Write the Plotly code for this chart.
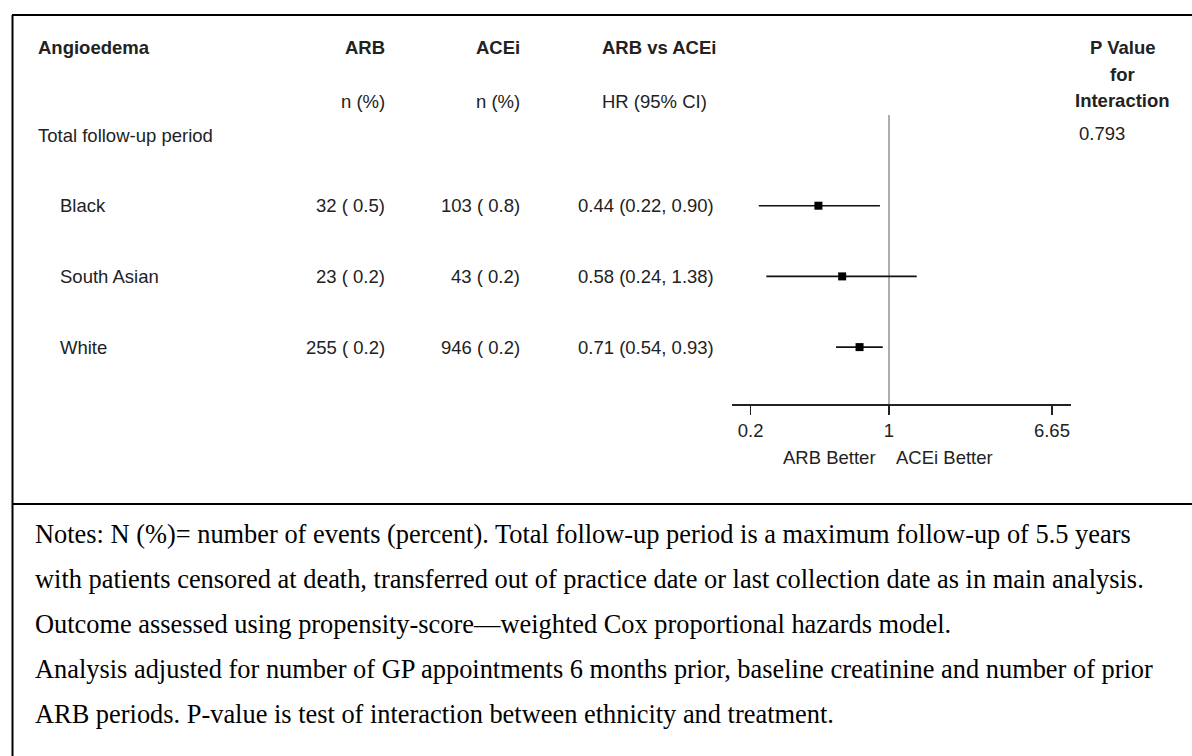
import math
import plotly.graph_objects as go

# ---------------- data ----------------
outcome_title = "Angioedema"
period_label = "Total follow-up period"
groups = ["Black", "South Asian", "White"]
arb_events = [32, 23, 255]
arb_percent = [0.5, 0.2, 0.2]
acei_events = [103, 43, 946]
acei_percent = [0.8, 0.2, 0.2]
hazard_ratio = [0.44, 0.58, 0.71]
ci_lower = [0.22, 0.24, 0.54]
ci_upper = [0.90, 1.38, 0.93]
p_interaction = "0.793"
tick_values = [0.2, 1, 6.65]
tick_labels = ["0.2", "1", "6.65"]
null_hr = 1
notes_lines = [
    "Notes: N (%)= number of events (percent). Total follow-up period is a maximum follow-up of 5.5 years",
    "with patients censored at death, transferred out of practice date or last collection date as in main analysis.",
    "Outcome assessed using propensity-score\u2014weighted Cox proportional hazards model.",
    "Analysis adjusted for number of GP appointments 6 months prior, baseline creatinine and number of prior",
    "ARB periods. P-value is test of interaction between ethnicity and treatment.",
]

# ---------------- layout helpers ----------------
W, H = 1192, 756
ROW0 = 135.0      # pixel y of the first (period) row
STEP = 70.7       # pixel distance between rows
SANS = "Liberation Sans, Arial, sans-serif"
SERIF = "Liberation Serif, Times New Roman, serif"
TXT = "#222222"
FS = 18.5


def pxx(p):
    return p / W


def pyy(p):
    return 1 - p / H


def row_of(p):
    return (p - ROW0) / STEP


group_rows = [i + 1 for i in range(len(groups))]

fig = go.Figure()

# CI lines + point estimates
fig.add_trace(go.Scatter(
    x=hazard_ratio,
    y=group_rows,
    mode="markers",
    marker=dict(symbol="square", size=8, color="black"),
    error_x=dict(
        type="data", symmetric=False,
        array=[h - e for h, e in zip(ci_upper, hazard_ratio)],
        arrayminus=[e - l for e, l in zip(hazard_ratio, ci_lower)],
        width=0, thickness=1.6, color="#111111",
    ),
    hoverinfo="skip",
    showlegend=False,
))

ann = []


def add_text(text, x, y, anchor="left", bold=False, size=FS, font=SANS, color=TXT, yref="paper"):
    if bold:
        text = "<b>" + text + "</b>"
    ann.append(dict(
        text=text, x=pxx(x), xref="paper", y=y, yref=yref,
        xanchor=anchor, yanchor="middle", showarrow=False,
        font=dict(family=font, size=size, color=color),
    ))


# header
add_text(outcome_title, 36, pyy(47), "left", bold=True)
add_text("ARB", 387, pyy(47), "right", bold=True)
add_text("ACEi", 522, pyy(47), "right", bold=True)
add_text("ARB vs ACEi", 600, pyy(47), "left", bold=True)
add_text("P Value", 1122, pyy(47), "center", bold=True)
add_text("for", 1122, pyy(74), "center", bold=True)
add_text("Interaction", 1122, pyy(100), "center", bold=True)
add_text("n (%)", 387, pyy(102), "right")
add_text("n (%)", 522, pyy(102), "right")
add_text("HR (95% CI)", 600, pyy(102), "left")

# period row
add_text(period_label, 36, 0, "left", yref="y")
add_text(p_interaction, 1077, pyy(133), "left")

# group rows
for i, g in enumerate(groups):
    r = group_rows[i]
    add_text(g, 58, r, "left", yref="y")
    add_text(f"{arb_events[i]} ( {arb_percent[i]:.1f})", 387, r, "right", yref="y")
    add_text(f"{acei_events[i]} ( {acei_percent[i]:.1f})", 522, r, "right", yref="y")
    add_text(f"{hazard_ratio[i]:.2f} ({ci_lower[i]:.2f}, {ci_upper[i]:.2f})", 716, r, "right", yref="y")

# favours labels
add_text("ARB Better", 878, pyy(457), "right")
add_text("ACEi Better", 894, pyy(457), "left")

# notes
for k, line in enumerate(notes_lines):
    add_text(line, 33, pyy(534 + 45 * k), "left", font=SERIF, size=26.4, color="black")

shapes = [
    # reference line at HR = 1
    dict(type="line", xref="x", yref="y", x0=null_hr, x1=null_hr,
         y0=row_of(115), y1=row_of(404), line=dict(color="#9a9a9a", width=1.6), layer="below"),
    # outer frame: top, left, divider
    dict(type="line", xref="paper", yref="paper", x0=pxx(12), x1=1.0, y0=pyy(15), y1=pyy(15),
         line=dict(color="black", width=2)),
    dict(type="line", xref="paper", yref="paper", x0=pxx(12.5), x1=pxx(12.5), y0=pyy(15), y1=0,
         line=dict(color="black", width=2)),
    dict(type="line", xref="paper", yref="paper", x0=pxx(12), x1=1.0, y0=pyy(504), y1=pyy(504),
         line=dict(color="black", width=2)),
]

log_lo = (732 - 889) / 198.0
log_hi = (1071 - 889) / 198.0

fig.update_layout(
    width=W, height=H, autosize=False,
    margin=dict(l=0, r=0, t=0, b=0),
    paper_bgcolor="white", plot_bgcolor="rgba(0,0,0,0)",
    annotations=ann, shapes=shapes,
    hovermode=False,
    xaxis=dict(
        type="log", range=[log_lo, log_hi],
        domain=[pxx(732), pxx(1071)],
        anchor="free", position=pyy(404),
        showgrid=False, zeroline=False,
        showline=True, linecolor="#222222", linewidth=1.6,
        ticks="outside", ticklen=9, tickwidth=1.6, tickcolor="#222222",
        tickvals=tick_values, ticktext=tick_labels,
        tickfont=dict(family=SANS, size=FS, color=TXT),
        fixedrange=True,
    ),
    yaxis=dict(
        range=[row_of(H), row_of(0)], domain=[0, 1],
        visible=False, showgrid=False, zeroline=False, fixedrange=True,
    ),
)

fig.write_html(
    "out.html",
    config={"displayModeBar": False, "staticPlot": True},
    post_script="document.body.style.margin='0px';",
)
